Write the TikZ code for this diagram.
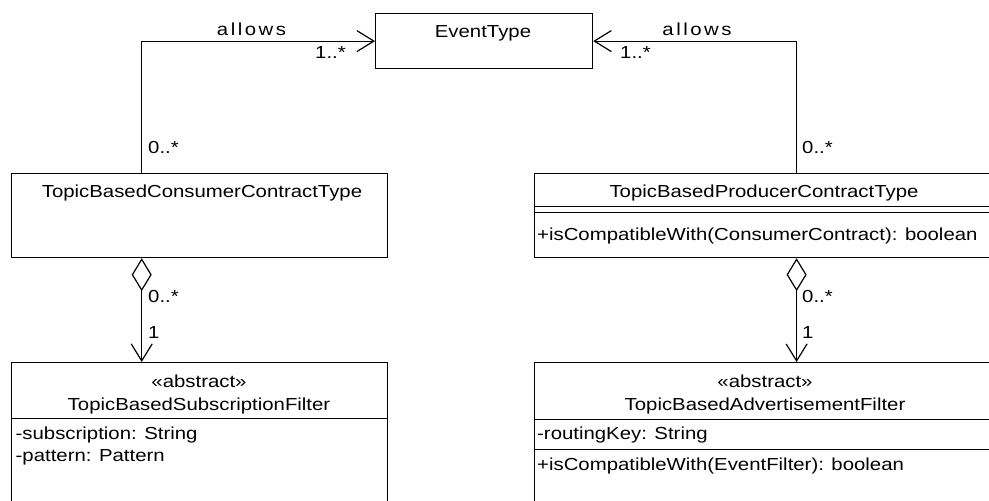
\documentclass[tikz,border=0pt]{standalone}
\usepackage{fontspec}
\setmainfont{Liberation Sans}[FakeStretch=1.17]
\usetikzlibrary{arrows.meta}
\newcommand\allowsword{a\kern2.5pt l\kern2.5pt l\kern2.5pt o\kern2.5pt w\kern2.5pt s}
\begin{document}
\begin{tikzpicture}[x=1pt,y=-1pt,
  umlbox/.style={draw=black, line width=1.2pt, inner sep=0pt, anchor=north west},
  txt/.style={inner sep=0pt, font=\fontsize{17.4}{23}\selectfont, text=black},
  ctr/.style={txt, anchor=base},
  lft/.style={txt, anchor=base west},
  assoc/.style={draw=black, line width=1.2pt, -{Straight Barb[length=17pt,width=21pt]}},
  aggr/.style={draw=black, line width=1.2pt, {Diamond[open,fill=white,length=33pt,width=20pt]}-{Straight Barb[length=17pt,width=21pt]}},
  cline/.style={draw=black, line width=1.2pt}
]
\useasboundingbox (0,0) rectangle (989,501);
\clip (0,0) rectangle (989,501);

% boxes
\node[umlbox, minimum width=217pt, minimum height=55pt] (event) at (375,13) {};
\node[umlbox, minimum width=376pt, minimum height=84pt] (cons) at (11,173) {};
\node[umlbox, minimum width=462pt, minimum height=84pt] (prod) at (534,173) {};
\node[umlbox, minimum width=376pt, minimum height=170pt] (sub) at (11,362) {};
\node[umlbox, minimum width=462pt, minimum height=170pt] (adv) at (534,362) {};

% compartment lines
\draw[cline] (534,206.7) -- (1000,206.7);
\draw[cline] (534,212.7) -- (1000,212.7);
\draw[cline] (11,418.5) -- (387,418.5);
\draw[cline] (534,419.3) -- (1000,419.3);
\draw[cline] (534,449.3) -- (1000,449.3);

% texts
\node[ctr] (eventname) at (483,37) {EventType};
\node[ctr] (consname) at (202,197) {TopicBasedConsumerContractType};
\node[ctr] (prodname) at (764,197) {TopicBasedProducerContractType};
\node[lft] (prodop) at (537,240) {+isCompatibleWith(ConsumerContract): boolean};
\node[ctr] (substereo) at (199,387) {«abstract»};
\node[ctr] (subname) at (199,410) {TopicBasedSubscriptionFilter};
\node[lft] (subattr1) at (15.5,439) {-subscription: String};
\node[lft] (subattr2) at (15.5,461.5) {-pattern: Pattern};
\node[ctr] (advstereo) at (765,387) {«abstract»};
\node[ctr] (advname) at (765,410) {TopicBasedAdvertisementFilter};
\node[lft] (advattr) at (537,439) {-routingKey: String};
\node[lft] (advop) at (537,470) {+isCompatibleWith(EventFilter): boolean};

% connectors
\draw[assoc] ([xshift=130.7pt]cons.north west) |- (event.west);
\draw[assoc] ([xshift=262.6pt]prod.north west) |- (event.east);
\draw[aggr] ([xshift=130.7pt]cons.south west) -- ([xshift=130.7pt]sub.north west);
\draw[aggr] ([xshift=262.6pt]prod.south west) -- ([xshift=262.6pt]adv.north west);

% connector labels
\node[ctr] (allowsL) at (251.5,35) {\allowsword};
\node[ctr] (allowsR) at (697,35) {\allowsword};
\node[lft] (mL1) at (315,58.7) {1..*};
\node[lft] (mR1) at (620,58.7) {1..*};
\node[lft] (mL0) at (148,153) {0..*};
\node[lft] (mR0) at (802,153) {0..*};
\node[lft] (aL0) at (148,302.7) {0..*};
\node[lft] (aL1) at (148,338) {1};
\node[lft] (aR0) at (802,302.7) {0..*};
\node[lft] (aR1) at (802,338) {1};
\end{tikzpicture}
\end{document}
